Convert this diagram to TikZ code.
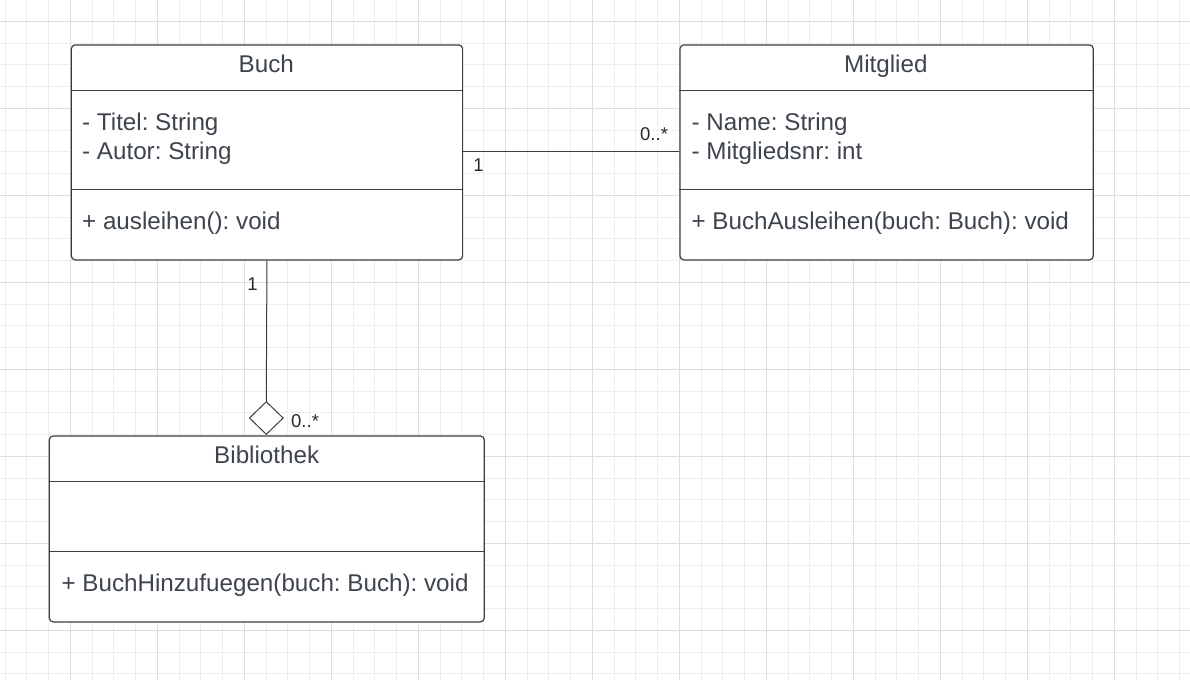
\documentclass[tikz,border=0pt]{standalone}
\usepackage{fontspec}
\setmainfont{Liberation Sans}
\usetikzlibrary{shapes.geometric}
\definecolor{txt}{RGB}{62,68,77}
\definecolor{edgec}{RGB}{58,62,68}
\definecolor{gridminor}{RGB}{237,237,237}
\definecolor{gridmajor}{RGB}{221,221,221}
\definecolor{mult}{RGB}{40,40,40}
\begin{document}
\frenchspacing
\begin{tikzpicture}[x=1pt,y=-1pt,
  classbox/.style={draw=edgec, line width=1.2pt, rounded corners=4pt, fill=white, inner sep=0pt, anchor=north west},
  sepline/.style={draw=edgec, line width=1.2pt},
  classtext/.style={font=\fontsize{24.2}{28}\selectfont\frenchspacing, text=txt, inner sep=0pt},
  multtext/.style={font=\fontsize{18.5}{21}\selectfont, text=mult, inner sep=0pt},
  conn/.style={draw=edgec, line width=1pt},
  aggr/.style={shape=diamond, draw=edgec, line width=1pt, fill=white, inner sep=0pt, minimum width=34pt, minimum height=33pt}
]
\useasboundingbox (0,0) rectangle (1190,680);
\fill[white] (0,0) rectangle (1190,680);
% grid
\foreach \i in {0,...,54} \draw[gridminor, line width=1pt] ({5.05+21.75*\i},0) -- ({5.05+21.75*\i},680);
\foreach \i in {1,...,31} \draw[gridminor, line width=1pt] (0,{-0.45+21.75*\i}) -- (1190,{-0.45+21.75*\i});
\foreach \i in {0,...,12} \draw[gridmajor, line width=1pt] ({70.3+87*\i},0) -- ({70.3+87*\i},680);
\foreach \i in {0,...,7} \draw[gridmajor, line width=1pt] (0,{21.3+87*\i}) -- (1190,{21.3+87*\i});

% Buch
\node[classbox, minimum width=391.3pt, minimum height=215pt] (buch) at (70.7,44.3) {};
\draw[sepline] (buch.west |- 0,90.3) -- (buch.east |- 0,90.3);
\draw[sepline] (buch.west |- 0,189.3) -- (buch.east |- 0,189.3);
\node[classtext, anchor=base] (buchT) at (266.3,72.7) {Buch};
\node[classtext, anchor=base west] (buchA1) at (82,130) {- Titel: String};
\node[classtext, anchor=base west] (buchA2) at (82,159.3) {- Autor: String};
\node[classtext, anchor=base west] (buchM1) at (82,229.3) {+ ausleihen(): void};

% Mitglied
\node[classbox, minimum width=413.4pt, minimum height=215pt] (mitglied) at (679.3,44.3) {};
\draw[sepline] (mitglied.west |- 0,90.3) -- (mitglied.east |- 0,90.3);
\draw[sepline] (mitglied.west |- 0,189.3) -- (mitglied.east |- 0,189.3);
\node[classtext, anchor=base] (mitT) at (885.8,72.7) {Mitglied};
\node[classtext, anchor=base west] (mitA1) at (691.4,130) {- Name: String};
\node[classtext, anchor=base west] (mitA2) at (691.4,159.3) {- Mitgliedsnr: int};
\node[classtext, anchor=base west] (mitM1) at (691.4,229.3) {+ BuchAusleihen(buch: Buch): void};

% Bibliothek
\node[classbox, minimum width=435pt, minimum height=186pt] (bib) at (48.7,435.3) {};
\draw[sepline] (bib.west |- 0,481.7) -- (bib.east |- 0,481.7);
\draw[sepline] (bib.west |- 0,551.7) -- (bib.east |- 0,551.7);
\node[classtext, anchor=base] (bibT) at (266.7,463.3) {Bibliothek};
\node[classtext, anchor=base west] (bibM1) at (61.4,591.7) {+ BuchHinzufuegen(buch: Buch): void};

% association Buch -- Mitglied
\coordinate (assocA) at (buch.east |- 0,151.7);
\coordinate (assocB) at (mitglied.west |- 0,151.7);
\draw[conn] (assocA) -- (assocB);
\node[multtext, anchor=base] (m1) at (478.5,171.7) {1};
\node[multtext, anchor=base west] (m2) at (640,140) {0..*};

% aggregation Buch -- Bibliothek
\node[aggr] (dia) at (266.3,418) {};
\draw[conn] (buch.south) -- (dia.north);
\node[multtext, anchor=base] (m3) at (252.5,290.7) {1};
\node[multtext, anchor=base west] (m4) at (291,427.3) {0..*};
\end{tikzpicture}
\end{document}
